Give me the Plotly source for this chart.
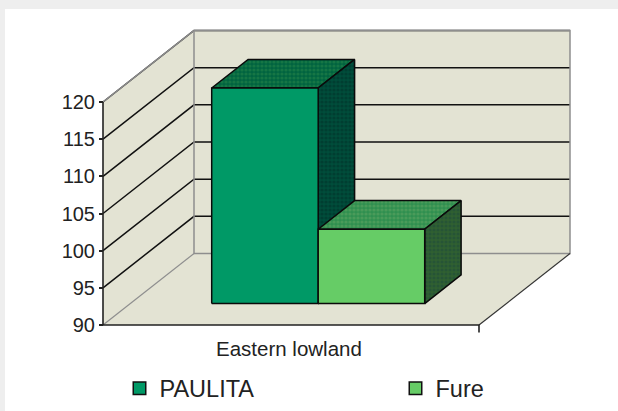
import plotly.graph_objects as go

categories = ["Eastern lowland"]
series_names = ["PAULITA", "Fure"]
series_values = [119, 100]
tick_values = [90, 95, 100, 105, 110, 115, 120]

W, H = 618, 411
AX_MIN, AX_MAX = 90, 120
LEFT, RIGHT = 103, 479       # front edge of the floor, px
Y_BOTTOM, Y_TOP = 325, 102   # axis min / max on the front edge, px
DX = 91                      # depth offset, px
PER_UNIT = (Y_BOTTOM - Y_TOP) / (AX_MAX - AX_MIN)
DV = 71.5 / PER_UNIT         # depth offset in value units
Y_RANGE = [AX_MIN - (H - Y_BOTTOM) / PER_UNIT, AX_MIN + Y_BOTTOM / PER_UNIT]

WALL = "#E3E3D3"
WALL_EDGE = "#8E8E8E"
FRONT = ["#009966", "#66CC66"]
TOP = ["#00633F", "#2F8F4F"]
TOP_DOT = ["#2C8A4C", "#66A866"]
SIDE = ["#004C3A", "#2F5F30"]
SIDE_DOT = ["#003028", "#1D4A3C"]


def px(s, d=0.0):
    """s = 0..1 along the category axis, d = 0..1 into the depth."""
    return LEFT + s * (RIGHT - LEFT) + d * DX


def val(v, d=0.0):
    return v + d * DV


def poly(pts, fill, line=None, width=1.5, pattern=None):
    xs = [px(s, d) for s, v, d in pts]
    ys = [val(v, d) for s, v, d in pts]
    kw = dict(x=xs + xs[:1], y=ys + ys[:1], mode="lines", fill="toself", fillcolor=fill,
              line=dict(color=line or fill, width=width if line else 0),
              hoverinfo="skip", showlegend=False)
    if pattern:
        kw["fillpattern"] = pattern
    return go.Scatter(**kw)


fig = go.Figure()

# Floor and walls
fig.add_trace(poly([(0, AX_MIN, 0), (1, AX_MIN, 0), (1, AX_MIN, 1), (0, AX_MIN, 1)], WALL))
fig.add_trace(poly([(0, AX_MIN, 0), (0, AX_MAX, 0), (0, AX_MAX, 1), (0, AX_MIN, 1)], WALL))
fig.add_trace(poly([(0, AX_MIN, 1), (0, AX_MAX, 1), (1, AX_MAX, 1), (1, AX_MIN, 1)], WALL))

# Gridlines
for t in tick_values:
    if t == AX_MIN:
        continue
    fig.add_trace(go.Scatter(
        x=[px(0, 0), px(0, 1), px(1, 1)], y=[val(t, 0), val(t, 1), val(t, 1)],
        mode="lines", line=dict(color="#111111", width=1.5), hoverinfo="skip", showlegend=False))

# Wall edges
fig.add_trace(go.Scatter(
    x=[px(0, 0), px(0, 1), px(1, 1), px(1, 1), px(0, 1), px(0, 1), px(0, 0)],
    y=[val(AX_MAX, 0), val(AX_MAX, 1), val(AX_MAX, 1), val(AX_MIN, 1), val(AX_MIN, 1), val(AX_MAX, 1), val(AX_MAX, 0)],
    mode="lines", line=dict(color=WALL_EDGE, width=1.5), hoverinfo="skip", showlegend=False))
fig.add_trace(go.Scatter(
    x=[px(0, 0), px(0, 1)], y=[val(AX_MIN, 0), val(AX_MIN, 1)],
    mode="lines", line=dict(color=WALL_EDGE, width=1.2), hoverinfo="skip", showlegend=False))
fig.add_trace(go.Scatter(
    x=[px(1, 0), px(1, 1)], y=[val(AX_MIN, 0), val(AX_MIN, 1)],
    mode="lines", line=dict(color="#333333", width=1.2), hoverinfo="skip", showlegend=False))

# Front edges of the floor and the value axis
fig.add_trace(go.Scatter(
    x=[px(0), px(0), px(1), px(1)], y=[AX_MAX, AX_MIN, AX_MIN, AX_MIN - 1],
    mode="lines", line=dict(color="#222222", width=1.6), hoverinfo="skip", showlegend=False))

# Bars (back to front, left to right)
BAR_W = 106.5 / (RIGHT - LEFT)
S0 = (211.7 - LEFT - 0.3 * DX) / (RIGHT - LEFT)
D0, D1 = 0.30, 0.70
for i, v in enumerate(series_values):
    a, b = S0 + i * BAR_W, S0 + (i + 1) * BAR_W
    # top
    fig.add_trace(poly([(a, v, D0), (b, v, D0), (b, v, D1), (a, v, D1)], TOP[i], "#0A0A0A",
                       pattern=dict(shape=".", fgcolor=TOP_DOT[i], bgcolor=TOP[i], size=4, solidity=0.5)))
    # side
    fig.add_trace(poly([(b, AX_MIN, D0), (b, AX_MIN, D1), (b, v, D1), (b, v, D0)], SIDE[i], "#0A0A0A",
                       pattern=dict(shape=".", fgcolor=SIDE_DOT[i], bgcolor=SIDE[i], size=4, solidity=0.5)))
    # front
    fig.add_trace(poly([(a, AX_MIN, D0), (b, AX_MIN, D0), (b, v, D0), (a, v, D0)], FRONT[i], "#0A0A0A"))

# Legend entries: one legend per series so they can sit far apart
for i, (name, color) in enumerate(zip(series_names, FRONT)):
    fig.add_trace(go.Scatter(
        x=[None], y=[None], mode="markers", name=name, legend="legend" if i == 0 else "legend2",
        marker=dict(symbol="square", size=12.5, color=color, line=dict(color="#111111", width=1.5))))

# Category label
fig.add_annotation(x=px(0.5) - 2.5, y=AX_MIN - 3.15, text=categories[0], showarrow=False,
                   xref="x", yref="y", font=dict(size=20.5, color="#222222"))

# Page panel
fig.add_shape(type="rect", xref="paper", yref="paper", x0=5 / W, x1=1, y0=0, y1=1 - 9 / H,
              fillcolor="white", line_width=0, layer="below")

legend_common = dict(y=1 - 366.5 / H, xanchor="left", yanchor="top", bgcolor="rgba(0,0,0,0)",
                     font=dict(size=23.5, color="#222222"))

fig.update_layout(
    width=W, height=H, margin=dict(l=0, r=0, t=0, b=0), autosize=False,
    paper_bgcolor="#EEEEEE", plot_bgcolor="rgba(0,0,0,0)",
    font=dict(family="Liberation Sans, Arial, sans-serif", color="#222222"),
    showlegend=True,
    legend=dict(x=119.5 / W, **legend_common),
    legend2=dict(x=395.5 / W, **legend_common),
    xaxis=dict(range=[0, W], domain=[0, 1], visible=False, fixedrange=True),
    yaxis=dict(range=Y_RANGE, domain=[0, 1], anchor="free", position=LEFT / W,
               tickmode="array", tickvals=tick_values, ticktext=[str(t) for t in tick_values],
               ticks="outside", ticklen=4, tickwidth=1.5, tickcolor="#222222",
               tickfont=dict(size=20, color="#222222"),
               showgrid=False, zeroline=False, showline=False, fixedrange=True),
)

fig.write_html("out.html", post_script="document.body.style.margin='0';", config={"displayModeBar": False})
